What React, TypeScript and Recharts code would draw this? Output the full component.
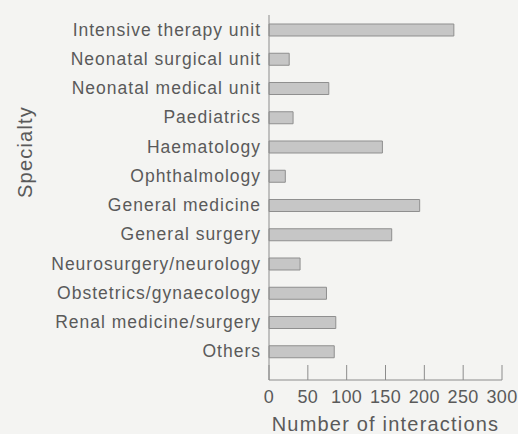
import { BarChart, Bar, XAxis, YAxis, Label } from 'recharts'

const specialties = [
  'Intensive therapy unit',
  'Neonatal surgical unit',
  'Neonatal medical unit',
  'Paediatrics',
  'Haematology',
  'Ophthalmology',
  'General medicine',
  'General surgery',
  'Neurosurgery/neurology',
  'Obstetrics/gynaecology',
  'Renal medicine/surgery',
  'Others'
]
const interactions = [238, 26, 77, 31, 146, 21, 194, 158, 40, 74, 86, 84]
const xTicks = [0, 50, 100, 150, 200, 250, 300]

const data = specialties.map((name, i) => ({ name, value: interactions[i] }))

const FONT = '"Liberation Sans", Arial, sans-serif'
const TEXT = '#5a5a5a'
const AXIS = '#8c8c8c'

function YTick({ x, y, payload }: any) {
  return (
    <text x={x + 1} y={y} dy={6} textAnchor="end" fontSize={17.5} letterSpacing={1}
      fill={TEXT} fontFamily={FONT}>
      {payload.value}
    </text>
  )
}

function XTick({ x, y, payload }: any) {
  return (
    <g>
      <line x1={x} x2={x} y1={y - 15} y2={y} stroke={AXIS} strokeWidth={1} />
      <text x={x} y={y + 23} textAnchor="middle" fontSize={18} letterSpacing={0.4}
        fill={TEXT} fontFamily={FONT}>
        {payload.value}
      </text>
    </g>
  )
}

export default function App() {
  return (
    <div style={{ position: 'absolute', left: 0, top: 0, width: 518, height: 434, background: '#f4f4f2' }}>
      <BarChart width={518} height={434} data={data} layout="vertical"
        margin={{ top: 15, right: 16, bottom: 0, left: 0 }}>
        <XAxis type="number" domain={[0, 300]} ticks={xTicks} height={54}
          axisLine={{ stroke: AXIS }} tickLine={false} tickSize={0} tickMargin={0}
          tick={<XTick />} interval={0}>
          <Label content={({ viewBox }: any) => (
            <text x={viewBox.x + viewBox.width / 2} y={viewBox.y + 51} textAnchor="middle"
              fontSize={20} letterSpacing={1.2} fill={TEXT} fontFamily={FONT}>
              Number of interactions
            </text>
          )} />
        </XAxis>
        <YAxis type="category" dataKey="name" width={269} padding={{ top: 0, bottom: 14 }}
          axisLine={{ stroke: AXIS }} tickLine={false} tickSize={0} tickMargin={9}
          tick={<YTick />} interval={0}>
          <Label content={({ viewBox }: any) => (
            <text x={32} y={viewBox.y + 137} textAnchor="middle"
              transform={`rotate(-90, 32, ${viewBox.y + 137})`}
              fontSize={20} letterSpacing={1.2} fill={TEXT} fontFamily={FONT}>
              Specialty
            </text>
          )} />
        </YAxis>
        <Bar dataKey="value" barSize={12} fill="#c6c6c6" stroke="#8f8f8f" strokeWidth={1}
          isAnimationActive={false} />
      </BarChart>
    </div>
  )
}
